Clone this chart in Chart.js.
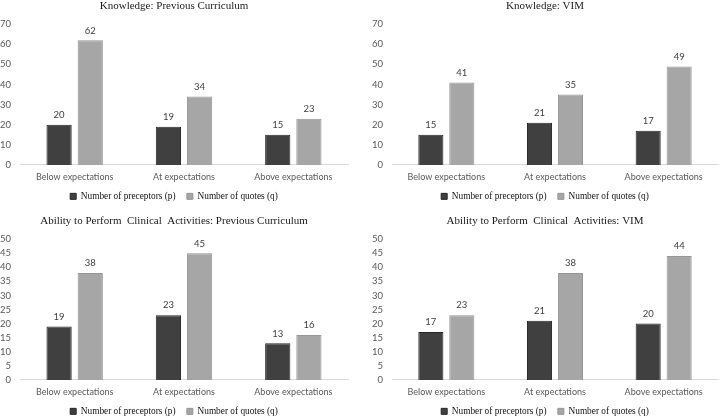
<!DOCTYPE html>
<html>
<head>
<meta charset="utf-8">
<script src="https://cdn.jsdelivr.net/npm/chart.js@4.4.1/dist/chart.umd.min.js"></script>
<style>
  body { margin: 0; width: 720px; height: 418px; overflow: hidden; background: #fff; position: relative; }
  canvas { position: absolute; }
</style>
</head>
<body>
<canvas id="c1" width="360" height="209" style="left:0;top:0"></canvas>
<canvas id="c2" width="360" height="209" style="left:360px;top:0"></canvas>
<canvas id="c3" width="360" height="209" style="left:0;top:215px"></canvas>
<canvas id="c4" width="360" height="209" style="left:360px;top:215px"></canvas>
<script>
// data
const categories = ["Below expectations", "At expectations", "Above expectations"];
const seriesNames = ["Number of preceptors (p)", "Number of quotes (q)"];

const knowPrevPreceptors = [20, 19, 15];
const knowPrevQuotes = [62, 34, 23];
const knowVimPreceptors = [15, 21, 17];
const knowVimQuotes = [41, 35, 49];
const abilityPrevPreceptors = [19, 23, 13];
const abilityPrevQuotes = [38, 45, 16];
const abilityVimPreceptors = [17, 21, 20];
const abilityVimQuotes = [23, 38, 44];

const sansFont = "Lato, 'DejaVu Sans', sans-serif";
const serifFont = "'Liberation Serif', 'DejaVu Serif', serif";

// value labels above each bar
const barLabels = {
  id: "barLabels",
  afterDatasetsDraw(chart) {
    const ctx = chart.ctx;
    ctx.save();
    ctx.font = "9.5px " + sansFont;
    ctx.fillStyle = "#404040";
    ctx.textAlign = "center";
    ctx.textBaseline = "bottom";
    chart.data.datasets.forEach((ds, i) => {
      chart.getDatasetMeta(i).data.forEach((bar, j) => {
        ctx.fillText(ds.data[j], bar.x, bar.y - 5);
      });
    });
    ctx.restore();
  }
};

// default legend items, with a wider gap after all but the last
function legendItems(chart) {
  const items = Chart.defaults.plugins.legend.labels.generateLabels(chart);
  return items.map((it, i) => (i < items.length - 1 ? { ...it, text: it.text + "\u2003" } : it));
}

function makeChart(id, title, preceptors, quotes, max, step, padLeft, padRight) {
  return new Chart(document.getElementById(id), {
    type: "bar",
    data: {
      labels: categories,
      datasets: [{
        label: seriesNames[0],
        data: preceptors,
        backgroundColor: "#404040",
        borderColor: "#262626",
        borderWidth: 1
      }, {
        label: seriesNames[1],
        data: quotes,
        backgroundColor: "#a6a6a6",
        borderColor: "#969696",
        borderWidth: 1
      }]
    },
    options: {
      responsive: false,
      animation: false,
      devicePixelRatio: 1,
      categoryPercentage: 0.57,
      barPercentage: 0.81,
      layout: { padding: { left: padLeft, right: padRight, top: 0, bottom: -2 } },
      plugins: {
        title: {
          display: true,
          text: title,
          color: "#1a1a1a",
          font: { family: serifFont, size: 11, weight: "normal" },
          padding: { top: 0, bottom: 11 }
        },
        legend: {
          position: "bottom",
          labels: {
            boxWidth: 6,
            boxHeight: 6,
            padding: 2,
            color: "#111",
            font: { family: serifFont, size: 9.3 },
            generateLabels: legendItems
          }
        },
        tooltip: { enabled: false }
      },
      scales: {
        x: {
          grid: { display: false, drawTicks: false },
          border: { color: "#d9d9d9" },
          ticks: { color: "#595959", font: { family: sansFont, size: 9 }, padding: 7 }
        },
        y: {
          min: 0,
          max: max,
          ticks: { stepSize: step, autoSkip: false, color: "#595959", font: { family: sansFont, size: 9.5 }, padding: 9 },
          grid: { display: false, drawTicks: false },
          border: { display: false },
          afterFit(s) { s.width = 20; }
        }
      }
    },
    plugins: [barLabels]
  });
}

makeChart("c1", "Knowledge: Previous Curriculum", knowPrevPreceptors, knowPrevQuotes, 70, 10, 0, 12);
makeChart("c2", "Knowledge: VIM", knowVimPreceptors, knowVimQuotes, 70, 10, 12, 2);
makeChart("c3", "Ability to Perform  Clinical  Activities: Previous Curriculum", abilityPrevPreceptors, abilityPrevQuotes, 50, 5, 0, 12);
makeChart("c4", "Ability to Perform  Clinical  Activities: VIM", abilityVimPreceptors, abilityVimQuotes, 50, 5, 12, 2);
</script>
</body>
</html>
